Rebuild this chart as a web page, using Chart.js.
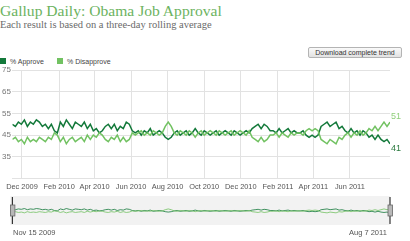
<!DOCTYPE html>
<html>
<head>
<meta charset="utf-8">
<script src="https://cdn.jsdelivr.net/npm/chart.js@4.4.1/dist/chart.umd.min.js"></script>
<style>
  html, body { margin:0; padding:0; background:#fff; width:410px; height:241px; overflow:hidden; }
  #title { position:absolute; left:0; top:2px; font-family:"Liberation Serif", serif; font-size:15.6px; color:#6cb35f; white-space:nowrap; }
  #sub { position:absolute; left:0; top:19px; font-family:"Liberation Serif", serif; font-size:10.5px; color:#6a6a6a; white-space:nowrap; }
  #btn { position:absolute; left:308px; top:47px; width:94px; height:11px; box-sizing:border-box; border:1px solid #b4b4b4; border-radius:2px;
         background:linear-gradient(#fafafa,#e2e2e2); font-family:"Liberation Sans", sans-serif; font-size:7px; line-height:9px; color:#333; text-align:center; }
  .leg { position:absolute; top:58px; font-family:"Liberation Sans", sans-serif; font-size:7px; line-height:7px; color:#444; white-space:nowrap; }
  .sw { position:absolute; top:58px; width:6px; height:6px; }
  #c1 { position:absolute; left:0; top:60px; }
  #c2 { position:absolute; left:0; top:192px; }
  .nl { position:absolute; top:228px; font-family:"Liberation Sans", sans-serif; font-size:7.5px; color:#555; white-space:nowrap; }
</style>
</head>
<body>
<div id="title">Gallup Daily: Obama Job Approval</div>
<div id="sub">Each result is based on a three-day rolling average</div>
<div id="btn">Download complete trend</div>
<div class="sw" style="left:0;background:#13793a"></div>
<div class="leg" style="left:10px">% Approve</div>
<div class="sw" style="left:57px;background:#72c262"></div>
<div class="leg" style="left:67px">% Disapprove</div>
<canvas id="c1" width="410" height="135"></canvas>
<canvas id="c2" width="410" height="36"></canvas>
<div class="nl" style="left:13px">Nov 15 2009</div>
<div class="nl" style="left:349px">Aug 7 2011</div>
<script>
// day offsets from Nov 15 2009
const days = [0,5,10,15,20,25,30,35,40,45,50,55,60,65,70,75,80,85,90,95,100,105,110,115,120,125,130,135,140,145,150,155,160,165,170,175,180,185,190,195,200,205,210,215,220,225,230,235,240,245,250,255,260,265,270,275,280,285,290,295,300,305,310,315,320,325,330,335,340,345,350,355,360,365,370,375,380,385,390,395,400,405,410,415,420,425,430,435,440,445,450,455,460,465,470,475,480,485,490,495,500,505,510,515,520,525,530,535,540,545,550,555,560,565,570,575,580,585,590,595,600,605,610,615,620,625,630];
const approve = [50,49,51,50,52,49,51,50,52,51,49,50,48,50,
  47,46,
  51,49,52,50,48,51,50,49,51,48,50,
  47,48,46,47,
  49,50,48,50,47,49,48,
  51,50,
  47,46,47,45,47,46,48,45,46,47,46,
  44,43,44,
  46,47,45,46,47,45,46,48,46,45,47,46,45,46,47,45,46,47,46,45,47,46,45,46,47,46,
  48,49,50,48,50,49,47,
  47,46,48,46,47,48,46,47,46,
  46,47,45,
  44,45,44,45,
  49,50,51,49,50,51,48,49,
  47,46,48,46,47,45,47,46,
  44,45,43,45,
  43,42,43,41];
const disapprove = [43,44,42,43,41,44,42,43,42,44,43,42,44,43,
  46,45,
  42,44,41,43,44,42,43,44,42,45,43,
  45,44,46,45,
  43,42,44,43,45,42,44,
  42,43,
  46,45,46,47,45,46,45,47,46,45,46,
  49,51,49,
  46,45,47,46,45,47,46,44,46,47,45,46,47,46,45,47,46,45,46,47,45,46,47,46,45,47,
  44,43,42,44,42,43,45,
  45,46,44,46,45,44,46,45,46,
  46,45,47,
  48,47,48,47,
  43,42,41,43,42,41,44,43,
  45,46,44,46,45,47,45,46,
  48,47,49,47,
  49,51,49,51];
const tickDays = [16,78,137,198,259,320,381,443,502,563];
const tickLabels = ['Dec 2009','Feb 2010','Apr 2010','Jun 2010','Aug 2010','Oct 2010','Dec 2010','Feb 2011','Apr 2011','Jun 2011'];
const yTicks = [25,35,45,55,65,75];
const yLabels = ['','35','45','55','65','75'];

const DARK = '#13793a', LIGHT = '#72c262';
const ptsA = days.map((d,i)=>({x:d,y:approve[i]}));
const ptsD = days.map((d,i)=>({x:d,y:disapprove[i]}));

const endLabels = {
  id:'endLabels',
  afterDatasetsDraw(chart){
    const ctx = chart.ctx, xs = chart.scales.x, ys = chart.scales.y;
    const la = approve[approve.length-1], ld = disapprove[disapprove.length-1];
    const x = xs.getPixelForValue(days[days.length-1]) + 1;
    ctx.save();
    ctx.font = '9px "Liberation Sans", sans-serif';
    ctx.textBaseline = 'middle';
    ctx.textAlign = 'left';
    const hiIsD = ld >= la;
    ctx.fillStyle = '#8fcf7a';
    ctx.fillText(String(ld), x, ys.getPixelForValue(ld) + (hiIsD ? -6 : 5));
    ctx.fillStyle = '#2b7a3f';
    ctx.fillText(String(la), x, ys.getPixelForValue(la) + (hiIsD ? 5 : -6));
    ctx.restore();
  }
};

new Chart(document.getElementById('c1'), {
  type:'line',
  data:{ datasets:[
    {data:ptsD, borderColor:LIGHT, borderWidth:1.5, pointRadius:0, tension:0, fill:false},
    {data:ptsA, borderColor:DARK, borderWidth:1.5, pointRadius:0, tension:0, fill:false}
  ]},
  options:{
    responsive:false, animation:false, devicePixelRatio:1,
    layout:{padding:{top:10,right:20,left:0,bottom:0}},
    plugins:{legend:{display:false}, tooltip:{enabled:false}},
    scales:{
      x:{type:'linear', min:0, max:630,
        afterBuildTicks(s){ s.ticks = tickDays.map(v=>({value:v})); },
        afterFit(s){ s.height = 16.5; },
        ticks:{ callback:(v)=>{ const i = tickDays.indexOf(v); return i>=0 ? tickLabels[i] : ''; },
          font:{family:'"Liberation Sans", sans-serif', size:7.4}, color:'#555', padding:4, maxRotation:0, autoSkip:false },
        grid:{color:'#e2e2e2', drawTicks:false, lineWidth:1},
        border:{display:false}
      },
      y:{min:25, max:75,
        afterBuildTicks(s){ s.ticks = yTicks.map(v=>({value:v})); },
        afterFit(s){ s.width = 12.4; },
        ticks:{ callback:(v)=>{ const i = yTicks.indexOf(v); return i>=0 ? yLabels[i] : ''; },
          font:{family:'"Liberation Sans", sans-serif', size:8}, color:'#777', padding:1.5 },
        grid:{color:'#e2e2e2', drawTicks:false, lineWidth:1},
        border:{display:false}
      }
    }
  },
  plugins:[endLabels]
});

const navDeco = {
  id:'navDeco',
  beforeDraw(chart){
    const ctx = chart.ctx, a = chart.chartArea;
    ctx.save();
    ctx.fillStyle = '#f2f2f2';
    ctx.fillRect(a.left-2, a.top, a.right-a.left+2, a.bottom-a.top);
    ctx.restore();
  },
  afterDatasetsDraw(chart){
    const ctx = chart.ctx, a = chart.chartArea, xs = chart.scales.x;
    const hx = [xs.getPixelForValue(days[0]), xs.getPixelForValue(days[days.length-1])];
    ctx.save();
    hx.forEach(x=>{
      ctx.strokeStyle = '#333'; ctx.lineWidth = 1.2;
      ctx.beginPath(); ctx.moveTo(x, a.top+1); ctx.lineTo(x, a.bottom-1); ctx.stroke();
      ctx.fillStyle = '#b8b8b8'; ctx.strokeStyle = '#666'; ctx.lineWidth = 0.8;
      ctx.fillRect(x-2, a.top+9, 4.5, 11); ctx.strokeRect(x-2, a.top+9, 4.5, 11);
    });
    ctx.restore();
  }
};

new Chart(document.getElementById('c2'), {
  type:'line',
  data:{ datasets:[
    {data:ptsD, borderColor:LIGHT, borderWidth:0.8, pointRadius:0, tension:0, fill:false},
    {data:ptsA, borderColor:DARK, borderWidth:0.8, pointRadius:0, tension:0, fill:false}
  ]},
  options:{
    responsive:false, animation:false, devicePixelRatio:1,
    layout:{padding:{top:4,right:20,left:12.4,bottom:3}},
    plugins:{legend:{display:false}, tooltip:{enabled:false}},
    scales:{
      x:{type:'linear', min:0, max:630, display:false},
      y:{min:10, max:84, display:false}
    }
  },
  plugins:[navDeco]
});
</script>
</body>
</html>
